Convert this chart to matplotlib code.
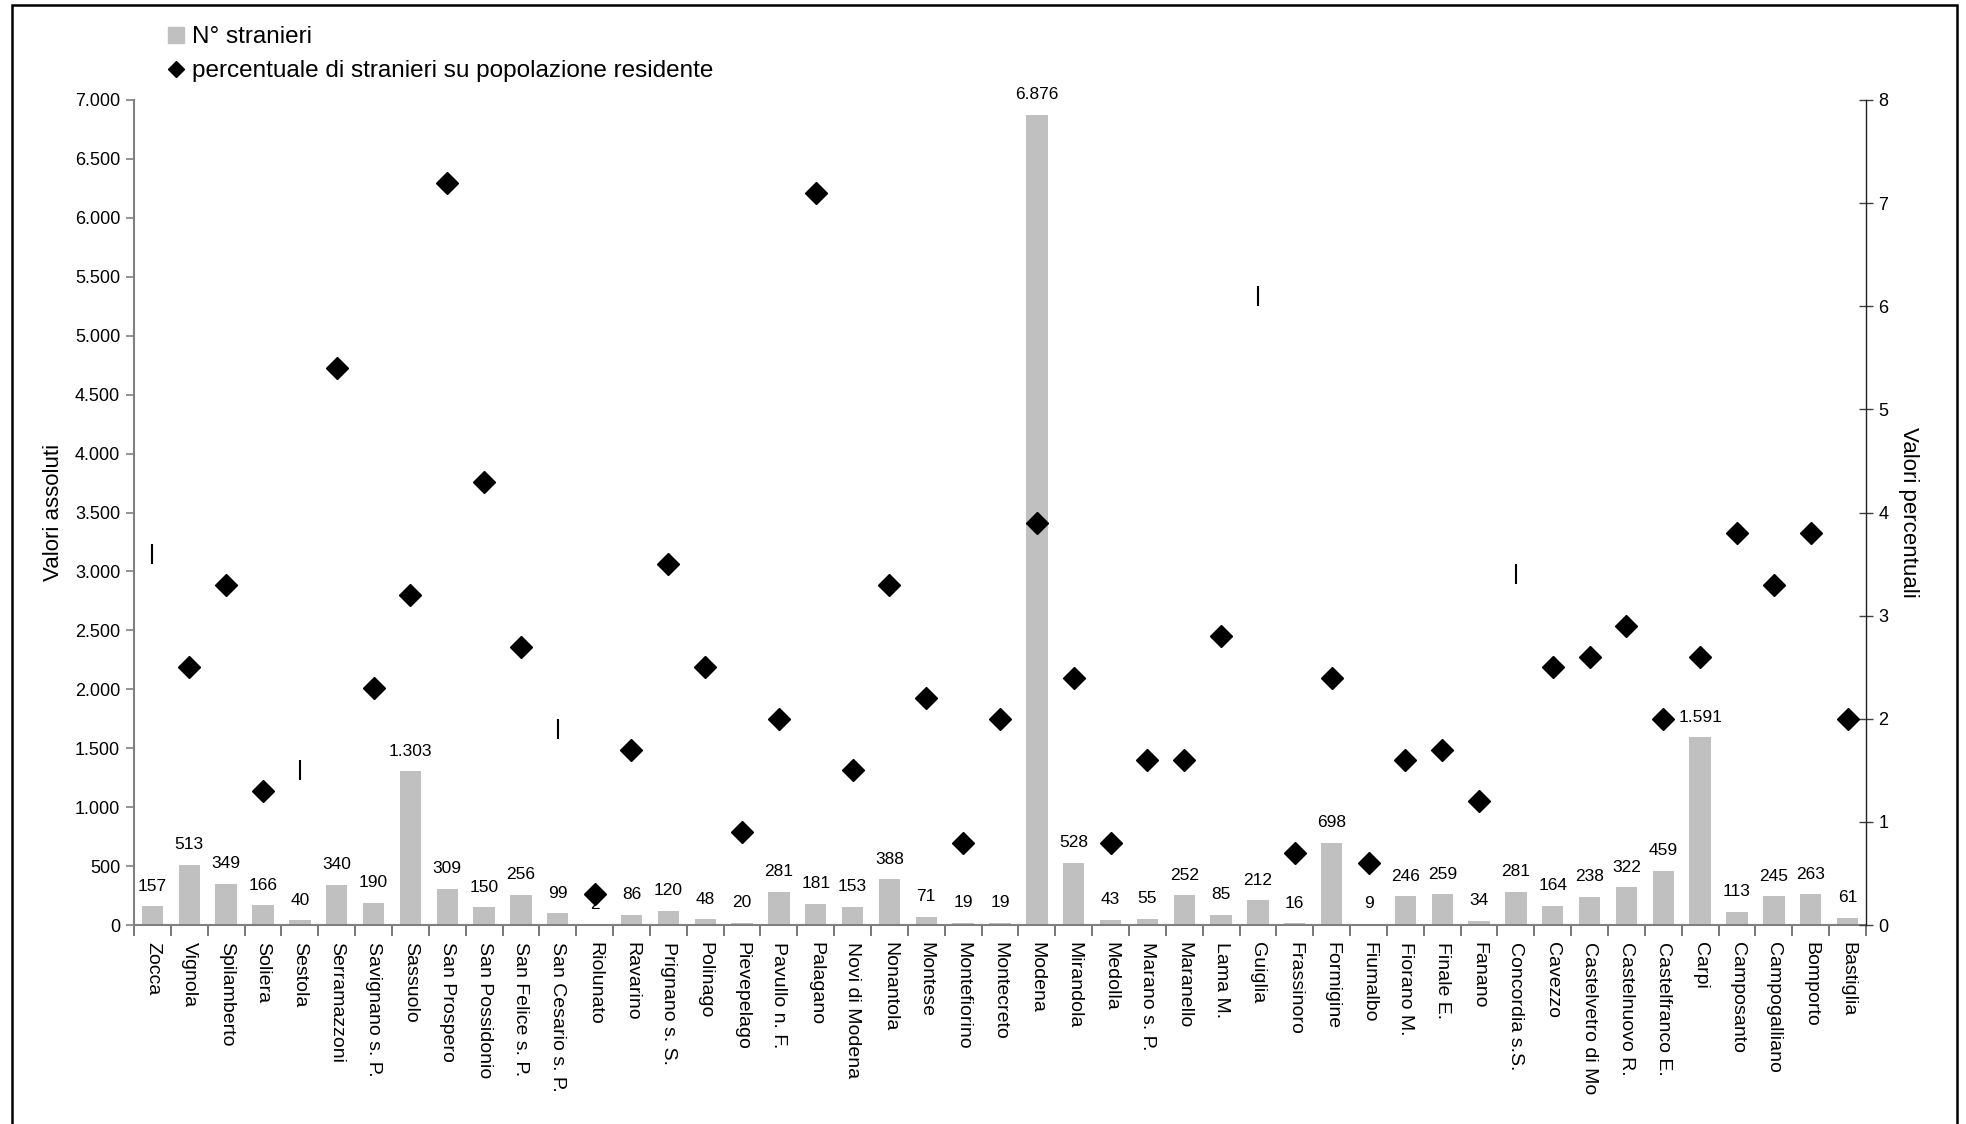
import matplotlib
matplotlib.use('Agg')
import matplotlib.pyplot as plt
from matplotlib.ticker import FuncFormatter, MultipleLocator, FixedLocator
from matplotlib.lines import Line2D
from matplotlib.patches import Rectangle
import numpy as np

plt.rcParams['font.family'] = ['Liberation Sans', 'DejaVu Sans']

comuni = ['Zocca', 'Vignola', 'Spilamberto', 'Soliera', 'Sestola', 'Serramazzoni',
          'Savignano s. P.', 'Sassuolo', 'San Prospero', 'San Possidonio',
          'San Felice s. P.', 'San Cesario s. P.', 'Riolunato', 'Ravarino',
          'Prignano s. S.', 'Polinago', 'Pievepelago', 'Pavullo n. F.', 'Palagano',
          'Novi di Modena', 'Nonantola', 'Montese', 'Montefiorino', 'Montecreto',
          'Modena', 'Mirandola', 'Medolla', 'Marano s. P.', 'Maranello', 'Lama M.',
          'Guiglia', 'Frassinoro', 'Formigine', 'Fiumalbo', 'Fiorano M.', 'Finale E.',
          'Fanano', 'Concordia s.S.', 'Cavezzo', 'Castelvetro di Mo', 'Castelnuovo R.',
          'Castelfranco E.', 'Carpi', 'Camposanto', 'Campogalliano', 'Bomporto',
          'Bastiglia']

stranieri = [157, 513, 349, 166, 40, 340, 190, 1303, 309, 150, 256, 99, 2, 86, 120,
             48, 20, 281, 181, 153, 388, 71, 19, 19, 6876, 528, 43, 55, 252, 85, 212,
             16, 698, 9, 246, 259, 34, 281, 164, 238, 322, 459, 1591, 113, 245, 263, 61]

percentuale = [3.6, 2.5, 3.3, 1.3, 1.5, 5.4, 2.3, 3.2, 7.2, 4.3, 2.7, 1.9, 0.3, 1.7,
               3.5, 2.5, 0.9, 2.0, 7.1, 1.5, 3.3, 2.2, 0.8, 2.0, 3.9, 2.4, 0.8, 1.6,
               1.6, 2.8, 6.1, 0.7, 2.4, 0.6, 1.6, 1.7, 1.2, 3.4, 2.5, 2.6, 2.9, 2.0,
               2.6, 3.8, 3.3, 3.8, 2.0]

# points that appear in the original only as a short vertical stroke
comuni_tratto = ['Zocca', 'Sestola', 'San Cesario s. P.', 'Guiglia', 'Concordia s.S.']

legenda = ['N° stranieri', 'percentuale di stranieri su popolazione residente']
asse_sx = 'Valori assoluti'
asse_dx = 'Valori percentuali'


def fmt_it(v, pos=None):
    return f'{int(round(v)):,}'.replace(',', '.')


W, H = 1966, 1124
fig = plt.figure(figsize=(W / 100, H / 100), dpi=100)
L, R, T, B = 134, 1866, 100, 925
ax = fig.add_axes([L / W, 1 - B / H, (R - L) / W, (B - T) / H])

n = len(comuni)
x = np.arange(n)
ax.bar(x, stranieri, width=0.58, color='#c0c0c0', zorder=2)
ax.set_xlim(-0.5, n - 0.5)
ax.set_ylim(0, 7000)
ax.yaxis.set_major_locator(MultipleLocator(500))
ax.yaxis.set_major_formatter(FuncFormatter(fmt_it))
ax.tick_params(axis='y', direction='out', length=6, width=1.2, color='#808080',
               labelsize=13, pad=4)
ax.set_xticks(x)
ax.set_xticklabels(comuni, rotation=-90, fontsize=14, va='top', ha='center')
ax.tick_params(axis='x', which='major', length=0, pad=12)
ax.xaxis.set_minor_locator(FixedLocator(np.arange(-0.5, n, 1.0)))
ax.tick_params(axis='x', which='minor', direction='out', length=8, width=1.2,
               color='#606060')
for s in ['top', 'right']:
    ax.spines[s].set_visible(False)
for s in ['left', 'bottom']:
    ax.spines[s].set_color('#808080')
    ax.spines[s].set_linewidth(1.5)
ax.set_ylabel(asse_sx, fontsize=16, labelpad=8)

for xi, v in zip(x, stranieri):
    ax.annotate(fmt_it(v), (xi, v), xytext=(0, 9), textcoords='offset points',
                ha='center', va='bottom', fontsize=12.5, zorder=3)

ax2 = ax.twinx()
ax2.set_ylim(0, 8)
ax2.yaxis.set_major_locator(MultipleLocator(1))
ax2.tick_params(axis='y', direction='inout', length=10, width=1.0, color='#404040',
                labelsize=13, pad=4)
for s in ['top', 'left', 'bottom']:
    ax2.spines[s].set_visible(False)
ax2.spines['right'].set_color('#202020')
ax2.spines['right'].set_linewidth(1.0)
ax2.set_ylabel(asse_dx, fontsize=16, rotation=-90, labelpad=22)

pct = np.array(percentuale)
tratto = np.array([c in comuni_tratto for c in comuni])
ax2.plot(x[~tratto], pct[~tratto], linestyle='none', marker='D', ms=11,
         color='black', zorder=5)
ax2.plot(x[tratto], pct[tratto], linestyle='none', marker='|', ms=14, mew=1.5,
         color='black', zorder=5)

handles = [Line2D([], [], linestyle='none', marker='s', ms=12, color='#c0c0c0'),
           Line2D([], [], linestyle='none', marker='D', ms=8, color='black')]
fig.legend(handles, legenda, loc='upper left', bbox_to_anchor=(165 / W, 1 - 26 / H),
           frameon=False, fontsize=17.5, handlelength=0.9, handletextpad=0.2,
           labelspacing=0.5, borderpad=0, borderaxespad=0)

fig.add_artist(Rectangle((12 / W, -0.05), (1957 - 12) / W, 1.05 - 5 / H,
                         transform=fig.transFigure, fill=False, edgecolor='black',
                         linewidth=1.8))

fig.savefig('out.png', dpi=100, facecolor='white')
